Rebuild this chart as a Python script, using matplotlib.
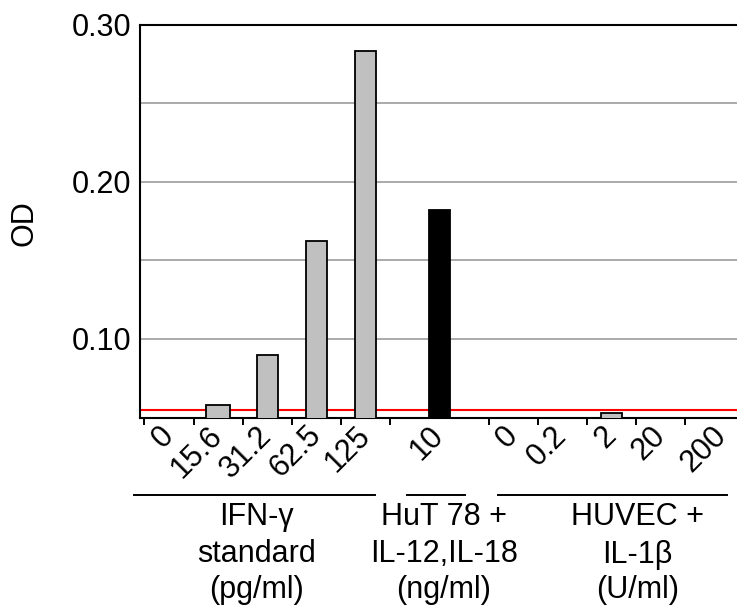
import matplotlib
matplotlib.use("Agg")
import matplotlib.pyplot as plt
from matplotlib.transforms import blended_transform_factory, ScaledTranslation

plt.rcParams['font.family'] = ['Liberation Sans', 'DejaVu Sans']

# IFN-gamma standard (pg/ml)
std_labels = ['0', '15.6', '31.2', '62.5', '125']
std_od = [0.040, 0.058, 0.090, 0.162, 0.283]

# HuT 78 + IL-12, IL-18 (ng/ml)
hut_labels = ['10']
hut_od = [0.182]

# HUVEC + IL-1beta (U/ml)
huvec_labels = ['0', '0.2', '2', '20', '200']
huvec_od = [0.045, 0.046, 0.053, 0.047, 0.046]

cutoff_od = 0.055

group_titles = [
    ['IFN-γ', 'standard', '(pg/ml)'],
    ['HuT 78 +', 'IL-12,IL-18', '(ng/ml)'],
    ['HUVEC +', 'IL-1β', '(U/ml)'],
]

# slot layout: 5 standard slots, a double slot for HuT, 5 HUVEC slots
x_std = [0, 1, 2, 3, 4]
x_hut = [5.5]
x_huvec = [7, 8, 9, 10, 11]
boundaries = [-0.5, 0.5, 1.5, 2.5, 3.5, 4.5, 6.5, 7.5, 8.5, 9.5, 10.5]

W, H = 737, 607
fig = plt.figure(figsize=(W / 100, H / 100), dpi=100)
ax = fig.add_axes([140 / W, 1 - 417.5 / H, 597 / W, 393 / H])

gray = '#c0c0c0'
ax.bar(x_std, std_od, width=[0.42, 0.49, 0.42, 0.42, 0.42], color=gray,
       edgecolor='black', linewidth=1.3, zorder=3)
ax.bar(x_hut, hut_od, width=0.43, color='black', edgecolor='black',
       linewidth=1.3, zorder=3)
ax.bar(x_huvec, huvec_od, width=0.42, color=gray, edgecolor='black',
       linewidth=1.3, zorder=3)
ax.axhline(cutoff_od, color='red', lw=1.5, zorder=2)

ax.set_xlim(-0.59, 11.55)
ax.set_ylim(0.05, 0.30)

# y axis
ax.set_yticks([0.10, 0.20, 0.30])
ax.set_yticklabels(['0.10', '0.20', '0.30'])
ax.set_yticks([0.15, 0.25], minor=True)
ax.grid(axis='y', which='both', color='#aaaaaa', lw=1.4, zorder=0)
ax.set_axisbelow(True)
ax.tick_params(axis='y', which='both', length=0, pad=6, labelsize=22)

# x axis: labels at slot centres, tick marks at slot boundaries
x_all = x_std + x_hut + x_huvec
labels_all = std_labels + hut_labels + huvec_labels
ax.set_xticks(x_all)
# the last label sits a little to the right in the original, drawn by hand
ax.set_xticklabels(labels_all[:-1] + [''])
ax.set_xticks(boundaries, minor=True)
ax.tick_params(axis='x', which='major', length=0, pad=9.7, labelsize=22)
ax.tick_params(axis='x', which='minor', length=5, width=1.4, direction='out')
for lbl in ax.get_xticklabels():
    lbl.set_rotation(45)
    lbl.set_ha('right')
    lbl.set_va('center')
    lbl.set_rotation_mode('anchor')
shift = ScaledTranslation(0.12, -9.7 / 72, fig.dpi_scale_trans)
ax.text(x_all[-1], 0, labels_all[-1], transform=ax.get_xaxis_transform() + shift,
        rotation=45, ha='right', va='center', rotation_mode='anchor',
        fontsize=22, clip_on=False)

for side in ['left', 'top', 'bottom']:
    ax.spines[side].set_linewidth(1.5)
ax.spines['right'].set_visible(False)

fig.text(25 / W, 1 - 223 / H, 'OD', rotation=90, ha='center', va='center',
         fontsize=22)

# group brackets below the tick labels
trans = blended_transform_factory(ax.transData, fig.transFigure)
spans = [(-0.72, 4.19), (4.83, 6.02), (6.69, 11.34)]
centres = [1.77, 5.59, 9.53]
line_y = 1 - 495 / H
baselines = [525, 562.5, 598]
for (x0, x1), xc, lines in zip(spans, centres, group_titles):
    ax.plot([x0, x1], [line_y, line_y], color='black', lw=1.4,
            transform=trans, clip_on=False)
    for txt, yb in zip(lines, baselines):
        ax.text(xc, 1 - yb / H, txt, transform=trans, ha='center',
                va='baseline', fontsize=22)

fig.savefig('out.png', dpi=100)
